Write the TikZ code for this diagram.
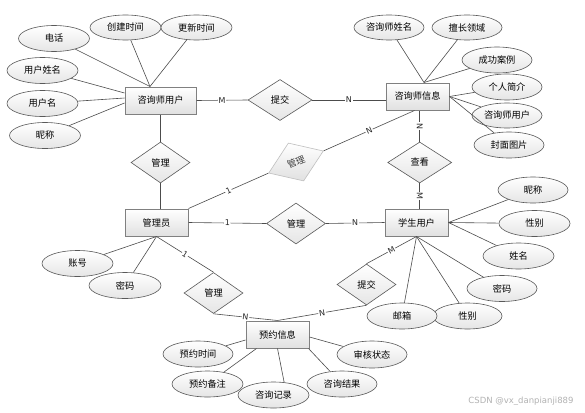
\documentclass[tikz,border=0pt]{standalone}
\usepackage{fontspec}
\setmainfont{Noto Sans CJK SC}
\newfontfamily\latfont{DejaVu Sans}
\usetikzlibrary{shapes.geometric,calc}
\begin{document}
\begin{tikzpicture}[x=1pt,y=-1pt,
  ent/.style={draw=black!50,line width=1pt,top color=white,bottom color=black!12,
    minimum height=27pt,minimum width=63pt,inner sep=0pt,font=\fontsize{9.2}{10}\selectfont},
  attr/.style={ellipse,draw=black!65,line width=0.6pt,top color=white,bottom color=black!10,
    minimum width=71pt,minimum height=26pt,inner sep=0pt,font=\fontsize{9.2}{10}\selectfont},
  rel/.style={diamond,draw=black!65,line width=0.6pt,top color=white,bottom color=black!10,
    minimum width=59pt,minimum height=41pt,inner sep=0pt,aspect=1.44,font=\fontsize{9.2}{10}\selectfont},
  faded/.style={diamond,draw=black!25,line width=0.6pt,top color=white,bottom color=black!12,
    minimum width=59pt,minimum height=41pt,inner sep=0pt,aspect=1.44,text=black!75,font=\fontsize{9.2}{10}\selectfont},
  ln/.style={draw=black!70,line width=0.6pt},
  card/.style={midway,sloped,fill=white,inner sep=0.8pt,font=\latfont\fontsize{8}{9}\selectfont,text=black!85}
]
\useasboundingbox[fill=white] (0,0) rectangle (585,412);

% entities
\node[ent,minimum width=71pt] (cu) at (160.5,100.5) {咨询师用户};
\node[ent] (ci) at (417.5,96.5) {咨询师信息};
\node[ent] (gl) at (156.5,222.5) {管理员};
\node[ent] (xs) at (416.5,222.5) {学生用户};
\node[ent] (yy) at (277.5,334.5) {预约信息};

% relationships
\node[rel,minimum width=64pt,aspect=1.56] (d1) at (280,100) {提交};
\node[rel] (d2) at (160.5,162.5) {管理};
\node[faded,rotate=22] (d3) at (296,162) {管理};
\node[rel,minimum width=64pt,aspect=1.56] (d4) at (419.7,162.5) {查看};
\node[rel] (d5) at (296,223.5) {管理};
\node[rel] (d6) at (213.5,293) {管理};
\node[rel] (d7) at (366.5,284.5) {提交};

% attributes of 咨询师用户
\node[attr] (a1) at (54,38.5) {电话};
\node[attr,minimum height=25pt] (a2) at (125.5,27.5) {创建时间};
\node[attr,minimum height=25pt] (a3) at (196.5,27.5) {更新时间};
\node[attr] (a4) at (42.5,70.5) {用户姓名};
\node[attr] (a5) at (42.5,103.5) {用户名};
\node[attr] (a6) at (45,135.5) {昵称};

% attributes of 咨询师信息
\node[attr,minimum width=70pt,minimum height=25pt] (b1) at (389,27.5) {咨询师姓名};
\node[attr,minimum width=70pt,minimum height=25pt] (b2) at (467,27.5) {擅长领域};
\node[attr,minimum width=70pt] (b3) at (497,60) {成功案例};
\node[attr,minimum width=70pt] (b4) at (507,87) {个人简介};
\node[attr,minimum width=70pt,minimum height=25pt] (b5) at (507,115.5) {咨询师用户};
\node[attr,minimum width=70pt] (b6) at (509,145) {封面图片};

% attributes of 学生用户
\node[attr,minimum width=70pt] (c1) at (533,190) {昵称};
\node[attr] (c2) at (534.5,223.5) {性别};
\node[attr] (c3) at (518.5,256) {姓名};
\node[attr,minimum width=70pt] (c4) at (502,288.5) {密码};
\node[attr,minimum width=69pt] (c5) at (467.5,316) {性别};
\node[attr,minimum width=70pt] (c6) at (402,316) {邮箱};

% attributes of 管理员
\node[attr] (g1) at (77.5,263.5) {账号};
\node[attr,minimum width=72pt] (g2) at (125,285.5) {密码};

% attributes of 预约信息
\node[attr,minimum width=70pt] (y1) at (198,354) {预约时间};
\node[attr] (y2) at (207.5,384) {预约备注};
\node[attr] (y3) at (273.5,395) {咨询记录};
\node[attr,minimum width=70pt] (y4) at (342,384) {咨询结果};
\node[attr,minimum width=70pt,minimum height=27pt] (y5) at (372,354.5) {审核状态};

% anchor points on entities
\coordinate (cuT) at ($(cu.north)+(-10.5,0)$);
\coordinate (cuL1) at ($(cu.west)+(0,-7.5)$);
\coordinate (cuL2) at ($(cu.west)+(0,-2.5)$);
\coordinate (cuL3) at ($(cu.west)+(0,2.5)$);
\coordinate (ciT) at ($(ci.north)+(6.5,0)$);
\coordinate (ciB) at ($(ci.south)+(-3,0)$);
\coordinate (yyW) at ($(yy.west)+(0,5.5)$);
\coordinate (yySW) at ($(yy.south west)+(11,0)$);
\coordinate (yySE) at ($(yy.south east)+(-1,0)$);
\coordinate (yyE) at ($(yy.east)+(0,2.5)$);

% attribute connectors
\foreach \a in {a1,a2,a3} \draw[ln] (\a) -- (cuT);
\draw[ln] (a4) -- (cuL1);
\draw[ln] (a5) -- (cuL2);
\draw[ln] (a6) -- (cuL3);
\foreach \b in {b1,b2,b3} \draw[ln] (\b) -- (ciT);
\foreach \b in {b4,b5,b6} \draw[ln] (\b) -- (ci.east);
\foreach \c in {c1,c2,c3} \draw[ln] (\c) -- (xs.east);
\foreach \c in {c4,c5,c6} \draw[ln] (\c) -- (xs.south);
\draw[ln] (g1) -- (gl.south);
\draw[ln] (g2) -- (gl.south);
\draw[ln] (y1) -- (yyW);
\draw[ln] (y2) -- (yySW);
\draw[ln] (y3.50) -- (yy.south);
\draw[ln] (y4) -- (yySE);
\draw[ln] (y5) -- (yyE);

% relationship connectors
\draw[ln] (cu.east) -- (d1.west) node[card] {M};
\draw[ln] (d1.east) -- (d1.east -| ci.west) node[card] {N};
\draw[ln] (cu.south) -- (d2.north);
\draw[ln] (d2.south) -- (d2.south |- gl.north);
\draw[ln] (gl.north east) -- (d3.west) node[card] {1};
\draw[ln] (d3.east) -- (ciB) node[card] {N};
\draw[ln] (d4.north |- ci.south) -- (d4.north) node[card] {N};
\draw[ln] (d4.south) -- (d4.south |- xs.north) node[card] {M};
\draw[ln] (gl.east) -- (d5.west) node[card] {1};
\draw[ln] (d5.east) -- (xs.west) node[card] {N};
\draw[ln] (gl.south) -- (d6.north) node[card] {1};
\draw[ln] (d6.south) -- (yy.north) node[card] {N};
\draw[ln] (xs.south) -- (d7.north) node[card] {M};
\draw[ln] (d7.south) -- (yy.north) node[card] {N};

% watermark
\node[text=black!30,font=\latfont\fontsize{8.5}{9}\selectfont] (wm) at (521,401) {CSDN @vx\_danpianji889};
\end{tikzpicture}
\end{document}
